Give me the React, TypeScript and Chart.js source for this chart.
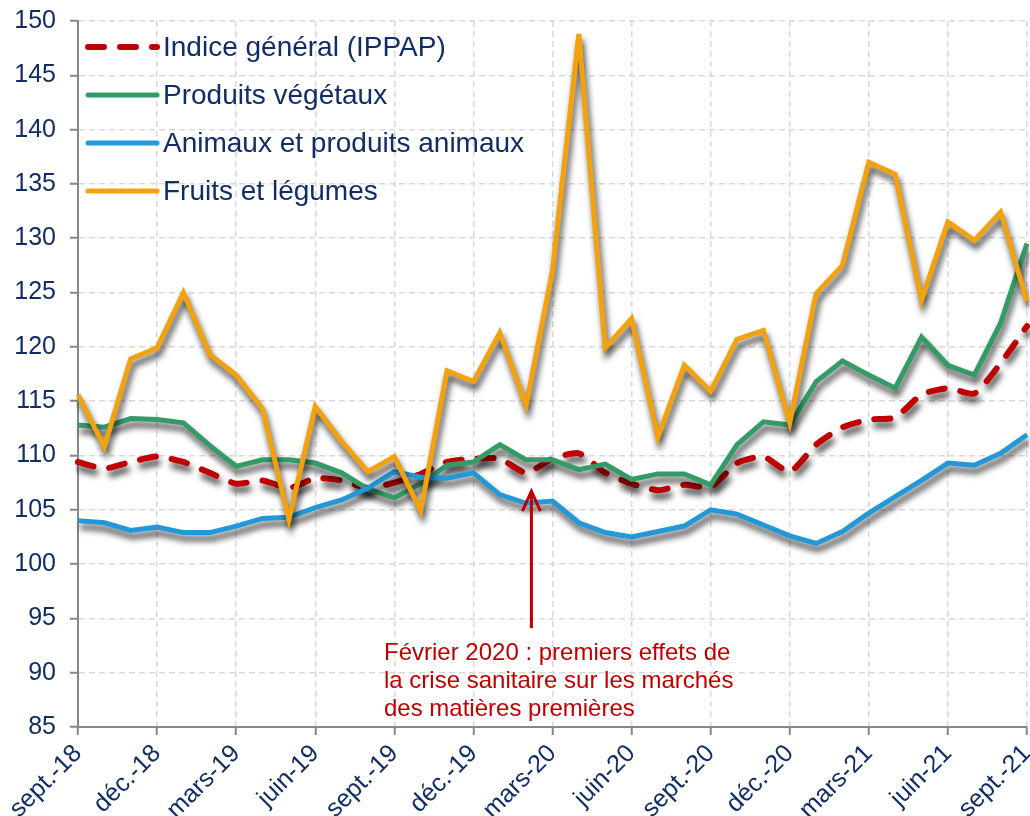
import React, { useEffect, useRef } from "react";
import { Chart, registerables } from "chart.js";

Chart.register(...registerables);

const months = [
  "sept.-18", "oct.-18", "nov.-18", "déc.-18", "janv.-19", "févr.-19", "mars-19", "avr.-19", "mai-19",
  "juin-19", "juil.-19", "août-19", "sept.-19", "oct.-19", "nov.-19", "déc.-19", "janv.-20", "févr.-20",
  "mars-20", "avr.-20", "mai-20", "juin-20", "juil.-20", "août-20", "sept.-20", "oct.-20", "nov.-20",
  "déc.-20", "janv.-21", "févr.-21", "mars-21", "avr.-21", "mai-21", "juin-21", "juil.-21", "août-21",
  "sept.-21",
];

const indiceGeneral = [
  109.4, 108.8, 109.4, 109.9, 109.4, 108.4, 107.4, 107.7, 107.0, 107.9, 107.7, 107.0, 107.5,
  108.3, 109.4, 109.7, 109.7, 108.4, 109.7, 110.2, 108.4, 107.4, 106.8, 107.3, 107.1, 109.3,
  109.9, 108.5, 111.0, 112.6, 113.3, 113.5, 115.6, 116.2, 115.7, 118.5, 121.9,
];

const produitsVegetaux = [
  112.8, 112.6, 113.4, 113.3, 113.0, 110.9, 109.0, 109.6, 109.6, 109.3, 108.4, 106.9, 106.1,
  107.4, 109.1, 109.4, 111.0, 109.6, 109.6, 108.7, 109.2, 107.8, 108.3, 108.3, 107.3, 111.0,
  113.1, 112.8, 116.8, 118.7, 117.4, 116.2, 120.9, 118.3, 117.4, 122.2, 129.5,
];

const animaux = [
  104.0, 103.8, 103.1, 103.4, 102.9, 102.9, 103.5, 104.2, 104.3, 105.2, 105.9, 107.0, 108.5,
  108.0, 107.9, 108.4, 106.4, 105.6, 105.8, 103.8, 102.9, 102.5, 103.0, 103.5, 105.0, 104.6,
  103.6, 102.6, 101.9, 103.0, 104.7, 106.2, 107.7, 109.3, 109.1, 110.2, 111.9,
];

const fruitsLegumes = [
  115.6, 110.8, 118.9, 119.9, 125.0, 119.3, 117.4, 114.3, 104.1, 114.5, 111.3, 108.5, 109.9,
  104.9, 117.8, 116.8, 121.3, 114.6, 127.0, 148.8, 119.9, 122.6, 111.7, 118.3, 115.9, 120.7,
  121.5, 113.0, 124.9, 127.5, 137.0, 135.9, 124.3, 131.5, 129.8, 132.4, 124.2,
];

const seriesLabels = [
  "Indice général (IPPAP)",
  "Produits végétaux",
  "Animaux et produits animaux",
  "Fruits et légumes",
];

const annotationLines = [
  "Février 2020 : premiers effets de",
  "la crise sanitaire sur les marchés",
  "des matières premières",
];

const FONT = "'Liberation Sans', Arial, Helvetica, sans-serif";
const NAVY = "#112d66";
const RED = "#C00000";
const GRID = "#d9d9d9";
const AXIS = "#878787";

const shadowPlugin = {
  id: "lineShadow",
  beforeDatasetDraw(chart: any) {
    const ctx = chart.ctx;
    ctx.save();
    ctx.shadowColor = "rgba(0,0,0,0.75)";
    ctx.shadowBlur = 6;
    ctx.shadowOffsetX = 2;
    ctx.shadowOffsetY = 6;
  },
  afterDatasetDraw(chart: any) {
    chart.ctx.restore();
  },
};

const legendPlugin = {
  id: "innerLegend",
  afterDraw(chart: any) {
    const ctx = chart.ctx;
    const area = chart.chartArea;
    ctx.save();
    chart.data.datasets.forEach((ds: any, i: number) => {
      const y = area.top + 26 + i * 48;
      const x0 = area.left + 10;
      const x1 = area.left + 79;
      ctx.beginPath();
      ctx.strokeStyle = ds.borderColor;
      ctx.lineWidth = ds.borderWidth;
      ctx.lineCap = "round";
      ctx.setLineDash(ds.borderDash || []);
      ctx.moveTo(x0, y);
      ctx.lineTo(x1, y);
      ctx.stroke();
      ctx.setLineDash([]);
      ctx.fillStyle = NAVY;
      ctx.font = `28px ${FONT}`;
      ctx.textAlign = "left";
      ctx.textBaseline = "middle";
      ctx.fillText(ds.label, area.left + 85, y + 1);
    });
    ctx.restore();
  },
};

const annotationPlugin = {
  id: "covidNote",
  afterDraw(chart: any) {
    const ctx = chart.ctx;
    const xs = chart.scales.x;
    const ys = chart.scales.y;
    const ax = xs.getPixelForValue(17.2);
    const top = ys.getPixelForValue(106.8);
    const bottom = ys.getPixelForValue(94.1);
    ctx.save();
    ctx.strokeStyle = RED;
    ctx.lineWidth = 3;
    ctx.lineCap = "butt";
    ctx.beginPath();
    ctx.moveTo(ax, bottom);
    ctx.lineTo(ax, top + 2);
    ctx.stroke();
    ctx.beginPath();
    ctx.lineJoin = "miter";
    ctx.moveTo(ax - 9, top + 21);
    ctx.lineTo(ax, top + 1);
    ctx.lineTo(ax + 9, top + 21);
    ctx.stroke();
    ctx.fillStyle = RED;
    ctx.font = `24px ${FONT}`;
    ctx.textAlign = "left";
    ctx.textBaseline = "alphabetic";
    const tx = chart.chartArea.left + 306;
    annotationLines.forEach((line, i) => {
      ctx.fillText(line, tx, ys.getPixelForValue(85) - 67 + i * 28);
    });
    ctx.restore();
  },
};

export default function App() {
  const canvasRef = useRef<HTMLCanvasElement | null>(null);

  useEffect(() => {
    document.body.style.margin = "0";
    const canvas = canvasRef.current;
    if (!canvas) return;
    Chart.defaults.font.family = FONT;

    const chart = new Chart(canvas, {
      type: "line",
      data: {
        labels: months,
        datasets: [
          {
            label: seriesLabels[0],
            data: indiceGeneral,
            borderColor: RED,
            borderWidth: 6,
            borderDash: [16, 16],
            borderCapStyle: "round",
            pointRadius: 0,
            tension: 0.2,
            order: 3,
          },
          {
            label: seriesLabels[1],
            data: produitsVegetaux,
            borderColor: "#349a66",
            borderWidth: 5,
            pointRadius: 0,
            tension: 0,
            order: 2,
          },
          {
            label: seriesLabels[2],
            data: animaux,
            borderColor: "#2298d8",
            borderWidth: 5,
            pointRadius: 0,
            tension: 0,
            order: 1,
          },
          {
            label: seriesLabels[3],
            data: fruitsLegumes,
            borderColor: "#f2a10f",
            borderWidth: 5,
            pointRadius: 0,
            tension: 0,
            order: 0,
          },
        ],
      },
      options: {
        responsive: false,
        animation: false,
        devicePixelRatio: 1,
        layout: { padding: { top: 21, right: 3, left: 0, bottom: 0 } },
        plugins: {
          legend: { display: false },
          tooltip: { enabled: false },
        },
        scales: {
          x: {
            grid: {
              color: (c: any) => (c.index % 3 === 0 ? GRID : "rgba(0,0,0,0)"),
              lineWidth: 1.5,
              tickColor: (c: any) => (c.index % 3 === 0 ? AXIS : "rgba(0,0,0,0)"),
              tickLength: 8,
              tickWidth: 2,
            },
            border: { display: true, color: AXIS, width: 2, dash: [6, 4] },
            ticks: {
              autoSkip: false,
              minRotation: 45,
              maxRotation: 45,
              color: NAVY,
              font: { size: 25, family: FONT },
              padding: 4,
              callback: (_v: any, i: number) => (i % 3 === 0 ? months[i] : ""),
            },
            afterFit: (s: any) => {
              s.height = 89;
              s.paddingLeft = 0;
              s.paddingRight = 0;
            },
          },
          y: {
            min: 85,
            max: 150,
            grid: {
              color: GRID,
              lineWidth: 1.5,
              tickColor: AXIS,
              tickLength: 8,
              tickWidth: 2,
            },
            border: { display: true, color: AXIS, width: 2, dash: [6, 4] },
            ticks: {
              stepSize: 5,
              color: NAVY,
              font: { size: 25, family: FONT },
              padding: 14,
            },
            afterFit: (s: any) => {
              s.width = 78;
              s.paddingTop = 0;
              s.paddingBottom = 0;
            },
          },
        },
      },
      plugins: [shadowPlugin, legendPlugin, annotationPlugin],
    });

    return () => chart.destroy();
  }, []);

  return (
    <div style={{ width: 1030, height: 816, background: "#fff" }}>
      <canvas ref={canvasRef} width={1030} height={816} />
    </div>
  );
}
